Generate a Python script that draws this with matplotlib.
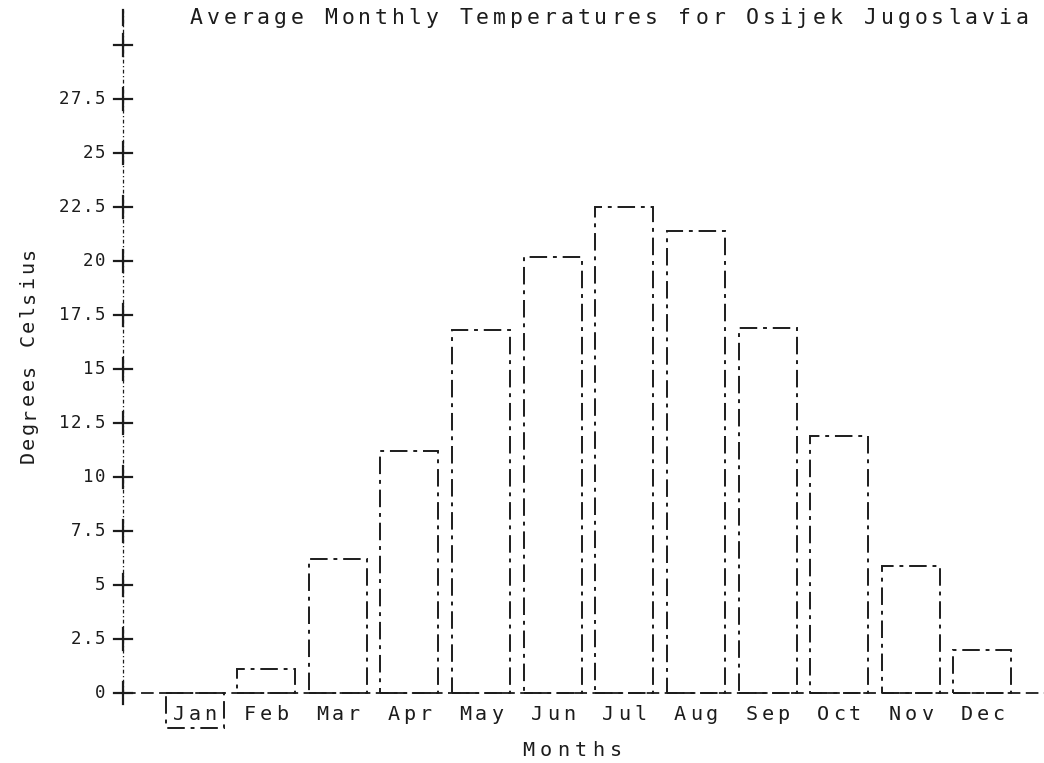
import matplotlib
matplotlib.use("Agg")
import matplotlib.pyplot as plt
from matplotlib.transforms import offset_copy
import numpy as np

months = ["Jan", "Feb", "Mar", "Apr", "May", "Jun",
          "Jul", "Aug", "Sep", "Oct", "Nov", "Dec"]
temps = [-1.6, 1.1, 6.2, 11.2, 16.8, 20.2, 22.5, 21.4, 16.9, 11.9, 5.9, 2.0]
ytick_vals = [0, 2.5, 5, 7.5, 10, 12.5, 15, 17.5, 20, 22.5, 25, 27.5, 30]
ytick_labels = ["0", "2.5", "5", "7.5", "10", "12.5", "15", "17.5",
                "20", "22.5", "25", "27.5", ""]
title = "Average Monthly Temperatures for Osijek Jugoslavia"
xlabel = "Months"
ylabel = "Degrees Celsius"

W, H = 1044, 763
INK = "#1c1c1c"
MONO = "DejaVu Sans Mono"

fig = plt.figure(figsize=(W / 100, H / 100), dpi=100)
ax = fig.add_axes([123 / W, 0, 921 / W, 1])
ax.set_xlim(-1, 11.86)
ax.set_ylim(-3.24, 32.08)
ax.axis("off")


def spaced(x, y, s, pitch, trans, size, rotation=0, ha="center"):
    # plotter lettering: place each glyph at a fixed pitch (pixels)
    n = len(s)
    if ha == "center":
        start = -(n - 1) / 2 * pitch
    else:  # right
        start = -(n - 1) * pitch - pitch / 2
    for i, ch in enumerate(s):
        off = start + i * pitch
        if rotation == 0:
            t = offset_copy(trans, fig=fig, x=off, y=0, units="dots")
        else:
            t = offset_copy(trans, fig=fig, x=0, y=off, units="dots")
        ax.text(x, y, ch, transform=t, ha="center", va="center",
                rotation=rotation, family=MONO, size=size, color=INK,
                clip_on=False)


idx = np.arange(len(months))

# bars drawn as broken plotter outlines
ax.bar(idx, temps, width=0.81, fill=False, edgecolor=INK, linewidth=1.4,
       linestyle=(0, (9, 3, 2, 3)))

# x baseline
ax.plot([-1, 11.86], [0, 0], color=INK, lw=1.3, ls=(0, (7, 3)), clip_on=False)

# y axis (fine dotted plotter line)
ax.plot([-1, -1], [0, 31.6], color=INK, lw=0.9, ls=(0, (3, 2, 1, 2)),
        clip_on=False)
ax.plot([-1, -1], [30.9, 31.6], color=INK, lw=1.6, clip_on=False)

# cross ticks and labels
for v, lab in zip(ytick_vals, ytick_labels):
    ax.plot([-1.126, -0.874], [v, v], color=INK, lw=1.6, clip_on=False)
    ax.plot([-1, -1], [v - 0.5, v + 0.5], color=INK, lw=1.6, clip_on=False)
    spaced(-1, v, lab, 12, offset_copy(ax.transData, fig=fig, x=-17, y=0,
                                        units="dots"), 12.5, ha="right")

# month labels
for i, m in enumerate(months):
    spaced(i, -0.98, m, 16, ax.transData, 14.5)

# axis titles and title
spaced(609 / W, 1 - 18 / H, title, 16.85, fig.transFigure, 15.5)
spaced(572 / W, 1 - 751 / H, xlabel, 17.5, fig.transFigure, 14.5)
spaced(28 / W, 1 - 355 / H, ylabel, 14.6, fig.transFigure, 14.5, rotation=90)

fig.savefig("out.png", dpi=100, facecolor="white")
